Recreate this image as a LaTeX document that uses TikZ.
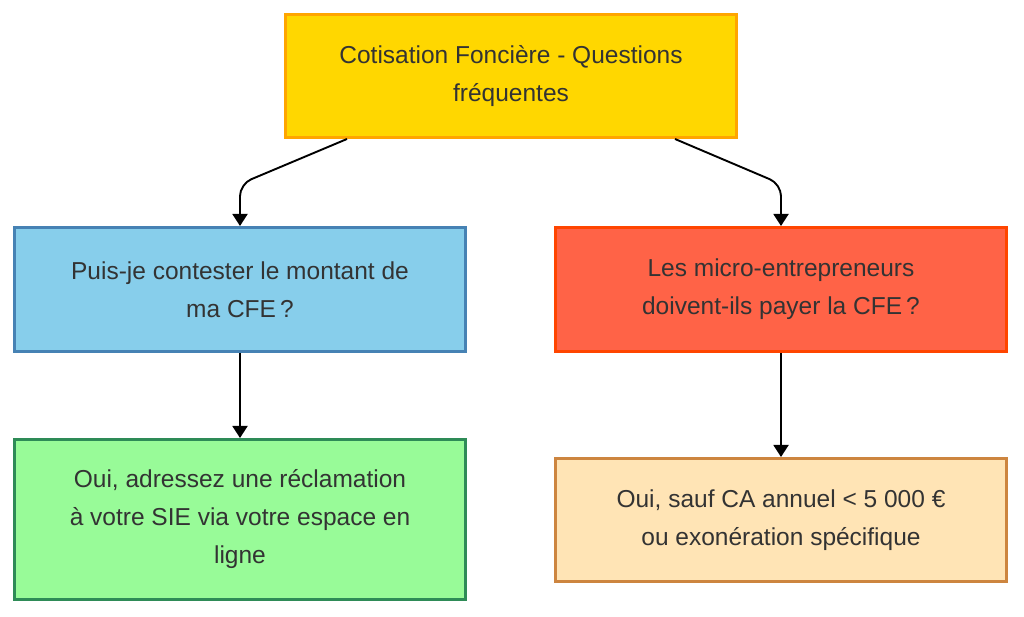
\documentclass[tikz,border=0pt]{standalone}
\usepackage{fontspec}
\setmainfont{Liberation Sans}
\usetikzlibrary{arrows.meta}
\definecolor{GOLD}{HTML}{FFD700}
\definecolor{ORANGE}{HTML}{FFA500}
\definecolor{SKY}{HTML}{87CEEB}
\definecolor{STEEL}{HTML}{4682B4}
\definecolor{TOMATO}{HTML}{FF6347}
\definecolor{ORANGERED}{HTML}{FF4500}
\definecolor{PALEGREEN}{HTML}{98FB98}
\definecolor{SEAGREEN}{HTML}{2E8B57}
\definecolor{MOCCASIN}{HTML}{FFE4B5}
\definecolor{PERU}{HTML}{CD853F}
\definecolor{TEXT}{HTML}{333333}

\begin{document}
\begin{tikzpicture}[x=1pt, y=1pt,
    box/.style={draw, line width=3pt, minimum width=451pt, align=center, text=TEXT,
        font=\fontsize{24.5}{38}\selectfont},
    link/.style={black, line width=1.9pt, rounded corners=12pt, -{Triangle[length=12pt, width=15pt]}}]
    \useasboundingbox (0,0) rectangle (1024,617);
    \node[box, fill=GOLD, draw=ORANGE, minimum height=123pt] (top) at (511,541) {Cotisation Foncière - Questions\\fréquentes};
    \node[box, fill=SKY, draw=STEEL, minimum height=124pt] (contest) at (240,327.5) {Puis-je contester le montant de\\ma CFE\,?};
    \node[box, fill=TOMATO, draw=ORANGERED, minimum height=124pt] (micro) at (781,327.5) {Les micro-entrepreneurs\\doivent-ils payer la CFE\,?};
    \node[box, fill=PALEGREEN, draw=SEAGREEN, minimum height=160pt] (reclam) at (240,97.5) {Oui, adressez une réclamation\\à votre SIE via votre espace en\\ligne};
    \node[box, fill=MOCCASIN, draw=PERU, minimum height=123pt] (sauf) at (781,97) {Oui, sauf CA annuel < 5 000 €\\ou exonération spécifique};
    \draw[link] ([xshift=63pt]top.south west) -- ([yshift=42pt]contest.north) -- (contest.north);
    \draw[link] ([xshift=-63pt]top.south east) -- ([yshift=42pt]micro.north) -- (micro.north);
    \draw[link] (contest.south) -- (reclam.north);
    \draw[link] (micro.south) -- (sauf.north);
\end{tikzpicture}
\end{document}
